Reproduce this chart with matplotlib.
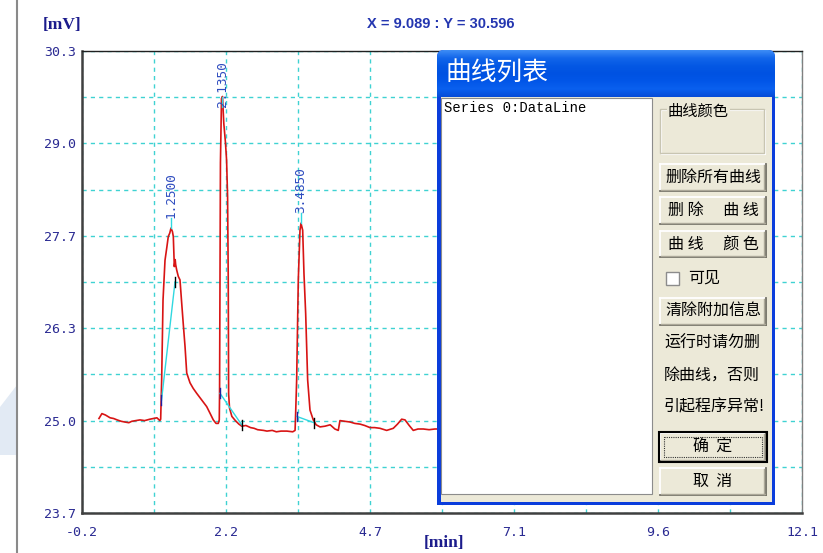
import numpy as np
import matplotlib.pyplot as plt
from matplotlib.patches import Rectangle, FancyBboxPatch, Polygon

W, H = 823, 553

# chromatogram trace (time in min, signal in mV)
time = [0.09, 0.14, 0.20, 0.28, 0.34, 0.40, 0.47, 0.53, 0.60, 0.65, 0.72, 0.79, 0.87,
        0.96, 1.02, 1.08, 1.13, 1.144,
        1.161, 1.184, 1.218, 1.250, 1.274, 1.300, 1.320, 1.345, 1.360, 1.377, 1.392,
        1.400, 1.418, 1.445, 1.474, 1.503, 1.530, 1.560, 1.589, 1.645, 1.70, 1.759,
        1.84, 1.930, 1.99, 2.043, 2.090, 2.128, 2.145,
        2.150, 2.165, 2.183, 2.200, 2.222, 2.250, 2.270, 2.287, 2.298, 2.305, 2.32,
        2.36, 2.42, 2.48, 2.53, 2.60, 2.68, 2.74, 2.80, 2.90, 2.96, 3.05, 3.12, 3.20,
        3.30, 3.40, 3.44, 3.450,
        3.467, 3.495, 3.524, 3.541, 3.570, 3.592, 3.621, 3.655, 3.695, 3.751, 3.80,
        3.866, 3.95, 4.04, 4.12, 4.178, 4.207, 4.29, 4.378, 4.46, 4.549, 4.63, 4.720,
        4.80, 4.89, 5.005, 5.118, 5.19, 5.261, 5.318, 5.39, 5.459, 5.54, 5.630, 5.73,
        5.830, 5.90]
signal = [25.05, 25.12, 25.10, 25.06, 25.05, 25.03, 25.01, 25.00, 24.99, 25.01, 25.02, 25.03,
          25.02, 25.04, 25.05, 25.06, 25.02, 25.04,
          25.60, 26.74, 27.31, 27.50, 27.65, 27.70, 27.77, 27.72, 27.65, 27.22, 27.32,
          27.25, 27.17, 27.08, 27.03, 26.70, 26.40, 26.08, 25.70, 25.56, 25.48, 25.41,
          25.32, 25.22, 25.12, 25.03, 24.98, 24.98, 25.03,
          25.40, 28.70, 29.62, 29.65, 29.27, 29.00, 28.74, 28.22, 27.08, 25.40, 25.20,
          25.08, 25.02, 24.97, 24.94, 24.95, 24.92, 24.91, 24.89, 24.88, 24.87, 24.88,
          24.86, 24.87, 24.87, 24.86, 24.88, 25.13,
          25.60, 27.03, 27.74, 27.84, 27.74, 27.12, 26.55, 25.60, 25.17, 25.03, 24.96,
          24.93, 24.94, 24.96, 24.90, 24.88, 25.02, 25.01, 25.00, 24.98, 24.97, 24.95,
          24.92, 24.92, 24.91, 24.88, 24.91, 24.97, 25.04, 25.03, 24.95, 24.88, 24.90,
          24.90, 24.89, 24.90, 24.90]

peak_times = [1.320, 2.200, 3.541]
peak_heights = [27.77, 29.65, 27.84]
peak_names = ['1.2500', '2.1350', '3.4850']
label_bottoms = [27.91, 29.50, 27.99]
base_start_t = [1.158, 2.157, 3.468]
base_start_v = [25.31, 25.41, 25.08]
base_end_t = [1.389, 2.528, 3.763]
base_end_v = [27.00, 24.96, 24.99]

x_min, x_max = -0.2, 12.1
y_min, y_max = 23.7, 30.3
x_tick_text = ['-0.2', '2.2', '4.7', '7.1', '9.6', '12.1']
y_tick_text = ['23.7', '25.0', '26.3', '27.7', '29.0', '30.3']

cjk = ['Noto Sans CJK SC', 'DejaVu Sans']
navy = '#2a2a92'
grid_c = '#3fd2d2'

fig = plt.figure(figsize=(W / 100, H / 100), dpi=100)
fig.patch.set_facecolor('white')

ax = fig.add_axes([82 / W, (H - 513) / H, 720 / W, 462 / H])
ax.set_xlim(x_min, x_max)
ax.set_ylim(y_min, y_max)
xt = np.linspace(x_min, x_max, 11)
yt = np.linspace(y_min, y_max, 11)
ax.set_xticks(xt)
ax.set_yticks(yt)
ax.set_xticklabels([x_tick_text[i // 2] if i % 2 == 0 else '' for i in range(11)])
ax.set_yticklabels([y_tick_text[i // 2] if i % 2 == 0 else '' for i in range(11)])
ax.tick_params(length=0, labelsize=9.5, labelcolor=navy)
ax.tick_params(axis='x', pad=9)
ax.tick_params(axis='y', pad=4)
for lab in ax.get_xticklabels() + ax.get_yticklabels():
    lab.set_fontfamily('DejaVu Sans Mono')
ax.grid(True, color=grid_c, linestyle=(0, (3, 3)), linewidth=1.0)
ax.spines['left'].set_color('#404040')
ax.spines['left'].set_linewidth(1.8)
ax.spines['bottom'].set_color('#404040')
ax.spines['bottom'].set_linewidth(1.8)
ax.spines['top'].set_color('#202020')
ax.spines['top'].set_linewidth(1.0)
ax.spines['right'].set_color('#808080')
ax.spines['right'].set_linewidth(1.0)

ax.plot(time, signal, color='#d81414', lw=1.2, zorder=3)
for i in range(len(peak_names)):
    ax.plot([base_start_t[i], base_end_t[i]], [base_start_v[i], base_end_v[i]],
            color='#30d8e0', lw=1.0, zorder=4)
    ax.plot([base_end_t[i]] * 2, [base_end_v[i] - 0.07, base_end_v[i] + 0.07],
            color='black', lw=1.0, zorder=5)
    ax.plot([base_start_t[i]] * 2, [base_start_v[i] - 0.07, base_start_v[i] + 0.07],
            color='#2020a0', lw=1.0, zorder=5)
    ax.plot([peak_times[i]] * 2, [peak_heights[i], label_bottoms[i]],
            color='#30d8e0', lw=1.0, zorder=4)
    ax.text(peak_times[i], label_bottoms[i], peak_names[i], rotation=90,
            ha='center', va='bottom', fontfamily='DejaVu Sans Mono',
            fontsize=9.2, color='#2d4bbf', zorder=6)

# overlay in pixel coordinates
ov = fig.add_axes([0, 0, 1, 1])
ov.set_xlim(0, W)
ov.set_ylim(H, 0)
ov.axis('off')
ov.patch.set_alpha(0)

ov.add_patch(Polygon([(0, 407), (17, 385), (17, 455), (0, 455)], closed=True,
                     fc='#e2eaf4', ec='none'))
ov.plot([17, 17], [0, H], color='#8a8a8a', lw=1.5)

ov.text(62, 25, '[mV]', fontfamily='Liberation Serif', fontweight='bold',
        fontsize=12.5, color='#1c1c8c', ha='center', va='center')
ov.text(444, 543, '[min]', fontfamily='Liberation Serif', fontweight='bold',
        fontsize=12.5, color='#1c1c8c', ha='center', va='center')
ov.text(441, 24, 'X = 9.089 : Y = 30.596', fontfamily='Liberation Sans',
        fontweight='bold', fontsize=10.5, color='#2436b0', ha='center', va='center')

# dialog window
blue = '#0a3ddc'
top_round = FancyBboxPatch((437, 50), 338, 60, boxstyle='round,pad=0,rounding_size=7',
                           fc=blue, ec='none')
ov.add_patch(top_round)
ov.add_patch(Rectangle((437, 80), 338, 425, fc=blue, ec='none'))
grad_cols = np.array([[0x3d, 0x8c, 0xf5], [0x12, 0x66, 0xea], [0x04, 0x58, 0xe4],
                      [0x00, 0x52, 0xe2], [0x02, 0x56, 0xe8], [0x0a, 0x60, 0xef],
                      [0x06, 0x4c, 0xd8]]) / 255.0
grad = np.array([np.interp(np.linspace(0, 1, 60), np.linspace(0, 1, len(grad_cols)),
                           grad_cols[:, k]) for k in range(3)]).T[:, None, :]
im = ov.imshow(grad, extent=[437, 775, 97, 50], aspect='auto', zorder=2)
im.set_clip_path(top_round)
ov.set_xlim(0, W)
ov.set_ylim(H, 0)
ov.text(446, 74, '曲线列表', fontfamily=cjk, fontsize=18.5, color='white',
        ha='left', va='center', zorder=3)

ov.add_patch(Rectangle((441, 97), 331, 405, fc='#ece9d8', ec='none', zorder=3))
ov.add_patch(Rectangle((441.5, 97.5), 211, 396, fc='white', ec='#8c8c8c', lw=0.8, zorder=3))
ov.text(444, 108, 'Series 0:DataLine', fontfamily='Liberation Mono', fontsize=10,
        color='black', ha='left', va='center', zorder=4)

# group box
ov.add_patch(Rectangle((660.5, 108.5), 104, 44, fc='none', ec='#c8c5b2', lw=1, zorder=4))
ov.add_patch(Rectangle((661.5, 109.5), 104, 44, fc='none', ec='white', lw=0.8, zorder=3.9))
ov.text(668, 111, '曲线颜色', fontfamily=cjk, fontsize=11, color='black',
        ha='left', va='center', zorder=5,
        bbox=dict(fc='#ece9d8', ec='none', pad=1))


def button(y0, y1, text, default=False):
    x0, x1 = 660, 766
    ov.add_patch(Rectangle((x0, y0), x1 - x0, y1 - y0, fc='#ece9d8', ec='none', zorder=4))
    ov.plot([x0, x1], [y0, y0], color='white', lw=1.3, zorder=5)
    ov.plot([x0, x0], [y0, y1], color='white', lw=1.3, zorder=5)
    ov.plot([x0, x1], [y1, y1], color='#716f64', lw=1.3, zorder=5)
    ov.plot([x1, x1], [y0, y1], color='#716f64', lw=1.3, zorder=5)
    ov.plot([x0 + 1, x1 - 1], [y1 - 1.5, y1 - 1.5], color='#aca899', lw=1, zorder=5)
    ov.plot([x1 - 1.5, x1 - 1.5], [y0 + 1, y1 - 1], color='#aca899', lw=1, zorder=5)
    if default:
        ov.add_patch(Rectangle((x0 - 1, y0 - 1), x1 - x0 + 2, y1 - y0 + 2, fc='none',
                               ec='black', lw=1.5, zorder=6))
        ov.add_patch(Rectangle((x0 + 4, y0 + 4), x1 - x0 - 8, y1 - y0 - 8, fc='none',
                               ec='#333333', lw=0.8, ls=(0, (1, 1)), zorder=6))
    ov.text((x0 + x1) / 2, (y0 + y1) / 2, text, fontfamily=cjk, fontsize=11.5,
            color='black', ha='center', va='center', zorder=7)


button(164, 191, '删除所有曲线')
button(197, 224, '删 除　 曲 线')
button(231, 257, '曲 线　 颜 色')
button(298, 325, '清除附加信息')
button(433, 461, '确  定', default=True)
button(468, 495, '取  消')

ov.add_patch(Rectangle((666, 272), 13, 13, fc='white', ec='#8c8c8c', lw=1, zorder=5))
ov.text(688, 278, '可见', fontfamily=cjk, fontsize=11.5, color='black',
        ha='left', va='center', zorder=5)
for yy, txt in [(343, '运行时请勿删'), (376, '除曲线，否则'), (407, '引起程序异常!')]:
    ov.text(664, yy, txt, fontfamily=cjk, fontsize=11.5, color='black',
            ha='left', va='center', zorder=5)

fig.savefig('out.png', dpi=100)
